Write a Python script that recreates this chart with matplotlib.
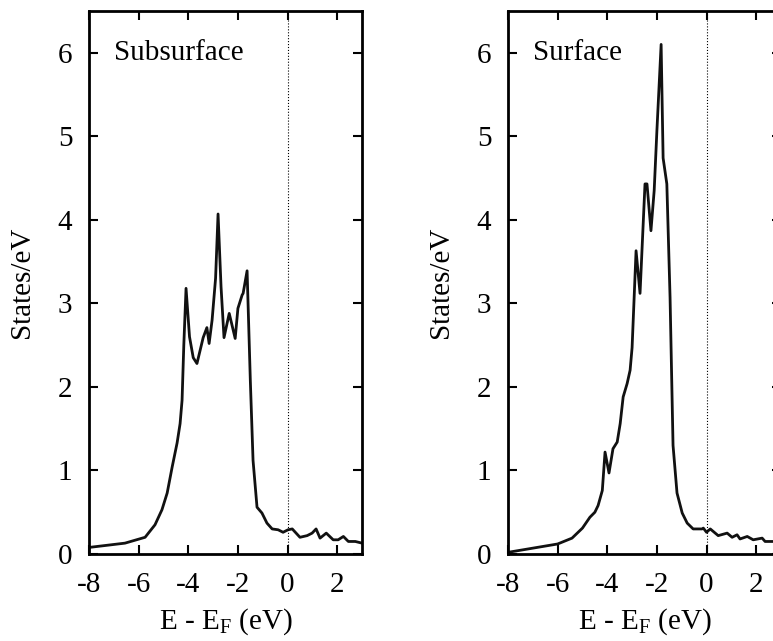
import matplotlib
matplotlib.use('Agg')
import matplotlib.pyplot as plt

plt.rcParams['font.family'] = ['Liberation Serif', 'DejaVu Serif']
plt.rcParams['mathtext.fontset'] = 'custom'
plt.rcParams['mathtext.rm'] = 'Liberation Serif'
plt.rcParams['mathtext.it'] = 'Liberation Serif:italic'

###############################################
### Data

e_sub = [-7.96, -6.55, -5.74, -5.34, -5.06, -4.85, -4.65, -4.45, -4.33, -4.25,
         -4.18, -4.09, -3.95, -3.8, -3.65, -3.4, -3.25, -3.16, -3.04, -2.9,
         -2.8, -2.68, -2.56, -2.35, -2.11, -2.0, -1.83, -1.79, -1.63, -1.5,
         -1.39, -1.23, -1.03, -0.83, -0.62, -0.38, -0.18, 0.02, 0.19, 0.5,
         0.79, 0.99, 1.15, 1.31, 1.56, 1.84, 2.04, 2.25, 2.45, 2.73, 3.0]
dos_sub = [0.08, 0.13, 0.20, 0.35, 0.53, 0.73, 1.04, 1.33, 1.56, 1.84,
           2.5, 3.18, 2.6, 2.35, 2.28, 2.59, 2.71, 2.52, 2.8, 3.3,
           4.07, 3.2, 2.59, 2.88, 2.58, 2.94, 3.1, 3.12, 3.39, 2.08,
           1.12, 0.56, 0.49, 0.37, 0.30, 0.29, 0.26, 0.29, 0.30, 0.20,
           0.22, 0.25, 0.30, 0.19, 0.25, 0.17, 0.17, 0.21, 0.15, 0.15, 0.13]

e_surf = [-8.0, -6.0, -5.42, -5.0, -4.7, -4.5, -4.37, -4.2, -4.09, -3.93,
          -3.77, -3.6, -3.48, -3.36, -3.2, -3.08, -3.0, -2.84, -2.68, -2.48,
          -2.4, -2.24, -2.11, -2.0, -1.83, -1.75, -1.6, -1.47, -1.35, -1.19,
          -0.98, -0.78, -0.54, -0.18, -0.13, 0.0, 0.15, 0.47, 0.83, 1.03,
          1.23, 1.35, 1.64, 1.88, 2.24, 2.36, 2.7, 3.0]
dos_surf = [0.02, 0.12, 0.19, 0.31, 0.44, 0.50, 0.58, 0.76, 1.22, 0.97,
            1.26, 1.34, 1.56, 1.88, 2.04, 2.2, 2.47, 3.63, 3.12, 4.43,
            4.43, 3.87, 4.35, 5.07, 6.1, 4.74, 4.43, 3.07, 1.3, 0.73,
            0.49, 0.37, 0.30, 0.30, 0.31, 0.26, 0.30, 0.22, 0.25, 0.20,
            0.23, 0.18, 0.21, 0.17, 0.19, 0.15, 0.15, 0.14]

panels = [(e_sub, dos_sub, 'Subsurface'), (e_surf, dos_surf, 'Surface')]
x_ticks = [-8, -6, -4, -2, 0, 2]
y_ticks = [0, 1, 2, 3, 4, 5, 6]

###############################################
### Figure

fig = plt.figure(figsize=(7.73, 6.41), dpi=100)
lefts = [89/773., 508/773.]
fs = 21

for left, (e, dos, name) in zip(lefts, panels):
    ax = fig.add_axes([left, 87/641., 273/773., 543/641.])
    ax.plot(e, dos, color='#111111', lw=2.0)
    ax.axvline(0, color='black', ls=':', lw=0.8)
    ax.set_xlim(-8, 3)
    ax.set_ylim(0, 6.5)
    ax.set_xticks(x_ticks)
    ax.set_yticks(y_ticks)
    ax.set_xticklabels([str(t) for t in x_ticks])
    ax.tick_params(direction='in', length=6.5, width=1.5, top=True, right=True,
                   labelsize=fs)
    ax.tick_params(axis='y', pad=12)
    ax.tick_params(axis='x', pad=13)
    for s in ax.spines.values():
        s.set_linewidth(2.0)
    ax.text(-7.0, 6.0, name, fontsize=fs, va='center', ha='left')
    ax.set_xlabel(r'E - E$_\mathrm{F}$ (eV)', fontsize=fs, labelpad=6)
    ax.set_ylabel('States/eV', fontsize=fs, labelpad=16)

plt.savefig('out.png', dpi=100)
